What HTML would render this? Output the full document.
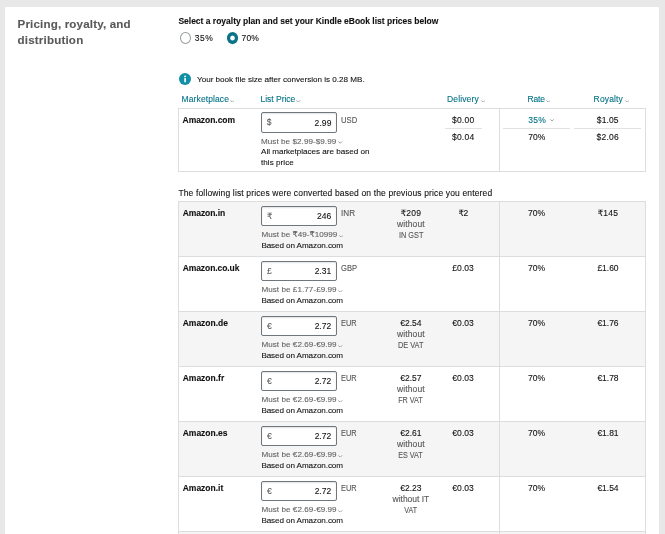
<!DOCTYPE html>
<html>
<head>
<meta charset="utf-8">
<title>Pricing, royalty, and distribution</title>
<style>
html,body{margin:0;padding:0;}
body{width:665px;height:534px;overflow:hidden;background:#e8e8e8;font-family:"Liberation Sans","DejaVu Sans",sans-serif;font-size:8.5px;color:#111;position:relative;}
.panel{position:absolute;left:5px;top:7px;width:654px;height:540px;background:#fff;}
.t{position:absolute;white-space:nowrap;line-height:1;-webkit-text-stroke:0.1px;}
.radio{position:absolute;width:11px;height:12px;border-radius:50%;border:1px solid #979c9f;background:#fff;box-sizing:border-box;}
.radio.on{border:3.2px solid #087488;border-top-width:3.5px;border-bottom-width:3.5px;}
.tbl{position:absolute;box-sizing:border-box;border:1px solid #ddd;}
.row{position:absolute;left:179px;width:466px;height:54px;}
.row.g{background:#f5f5f5;}
.hl{position:absolute;height:1px;background:#ddd;}
.vl{position:absolute;width:1px;background:#ddd;}
.inp{position:absolute;left:261px;width:76px;height:20px;border:1px solid #70777c;border-radius:2px;box-sizing:border-box;background:#fff;box-shadow:inset 0 1px 1.5px rgba(15,17,17,.12);}
.info{position:absolute;left:178.6px;top:73.1px;width:12.2px;height:12.2px;border-radius:50%;background:#1090a6;}
.chev{position:absolute;width:4px;height:2.4px;}
.hl.u{background:#e2e2e2;}
</style>
</head>
<body>
<div class="panel"></div>
<div class="radio" style="left:180px;top:32px"></div>
<svg style="position:absolute;left:226px;top:31px" width="13" height="14" viewBox="0 0 13 14"><ellipse cx="6.5" cy="7.05" rx="5.6" ry="6.1" fill="#0a7388"/><ellipse cx="6.5" cy="7.1" rx="2.35" ry="2.5" fill="#fff"/></svg>
<div class="info"><svg width="12.2" height="12.2" viewBox="0 0 12 12" style="display:block"><circle cx="6" cy="3.4" r="0.9" fill="#fff"/><rect x="5.2" y="5" width="1.6" height="4.2" rx="0.3" fill="#fff"/></svg></div>
<svg class="chev" style="left:230.0px;top:99.6px;width:4.4px;height:2.8px" viewBox="0 0 4.4 2.8"><polyline points="0.3,0.4 2.2,2.3 4.1,0.4" fill="none" stroke="#7d8285" stroke-width="0.75"/></svg>
<svg class="chev" style="left:296.4px;top:99.6px;width:4.4px;height:2.8px" viewBox="0 0 4.4 2.8"><polyline points="0.3,0.4 2.2,2.3 4.1,0.4" fill="none" stroke="#7d8285" stroke-width="0.75"/></svg>
<svg class="chev" style="left:481.1px;top:99.6px;width:4.4px;height:2.8px" viewBox="0 0 4.4 2.8"><polyline points="0.3,0.4 2.2,2.3 4.1,0.4" fill="none" stroke="#7d8285" stroke-width="0.75"/></svg>
<svg class="chev" style="left:545.8px;top:99.6px;width:4.4px;height:2.8px" viewBox="0 0 4.4 2.8"><polyline points="0.3,0.4 2.2,2.3 4.1,0.4" fill="none" stroke="#7d8285" stroke-width="0.75"/></svg>
<svg class="chev" style="left:624.6px;top:99.6px;width:4.4px;height:2.8px" viewBox="0 0 4.4 2.8"><polyline points="0.3,0.4 2.2,2.3 4.1,0.4" fill="none" stroke="#7d8285" stroke-width="0.75"/></svg>
<div class="tbl" style="left:178px;top:108px;width:468px;height:64px"></div>
<div class="vl" style="left:499px;top:109px;height:62px"></div>
<div class="inp" style="top:112px;height:20.5px"></div>
<svg class="chev" style="left:338.2px;top:141.1px;width:4.4px;height:2.8px" viewBox="0 0 4.4 2.8"><polyline points="0.3,0.4 2.2,2.3 4.1,0.4" fill="none" stroke="#777c80" stroke-width="0.75"/></svg>
<div class="hl u" style="left:445px;top:128px;width:37px"></div>
<div class="hl u" style="left:503px;top:128px;width:67px"></div>
<div class="hl u" style="left:574px;top:128px;width:67px"></div>
<svg class="chev" style="left:550px;top:119.1px" viewBox="0 0 4 2.4"><polyline points="0.3,0.3 2,2 3.7,0.3" fill="none" stroke="#7d8285" stroke-width="0.7"/></svg>
<div class="tbl" style="left:178px;top:201px;width:468px;height:340px"></div>
<div class="row g" style="top:202px"></div>
<div class="inp" style="top:206px"></div>
<svg class="chev" style="left:338.9px;top:234.5px;width:4.4px;height:2.8px" viewBox="0 0 4.4 2.8"><polyline points="0.3,0.4 2.2,2.3 4.1,0.4" fill="none" stroke="#777c80" stroke-width="0.75"/></svg>
<div class="row" style="top:257px"></div>
<div class="hl" style="left:179px;top:256px;width:466px"></div>
<div class="inp" style="top:261px"></div>
<svg class="chev" style="left:338.3px;top:289.5px;width:4.4px;height:2.8px" viewBox="0 0 4.4 2.8"><polyline points="0.3,0.4 2.2,2.3 4.1,0.4" fill="none" stroke="#777c80" stroke-width="0.75"/></svg>
<div class="row g" style="top:312px"></div>
<div class="hl" style="left:179px;top:311px;width:466px"></div>
<div class="inp" style="top:316px"></div>
<svg class="chev" style="left:338.3px;top:344.5px;width:4.4px;height:2.8px" viewBox="0 0 4.4 2.8"><polyline points="0.3,0.4 2.2,2.3 4.1,0.4" fill="none" stroke="#777c80" stroke-width="0.75"/></svg>
<div class="row" style="top:367px"></div>
<div class="hl" style="left:179px;top:366px;width:466px"></div>
<div class="inp" style="top:371px"></div>
<svg class="chev" style="left:338.3px;top:399.5px;width:4.4px;height:2.8px" viewBox="0 0 4.4 2.8"><polyline points="0.3,0.4 2.2,2.3 4.1,0.4" fill="none" stroke="#777c80" stroke-width="0.75"/></svg>
<div class="row g" style="top:422px"></div>
<div class="hl" style="left:179px;top:421px;width:466px"></div>
<div class="inp" style="top:426px"></div>
<svg class="chev" style="left:338.3px;top:454.5px;width:4.4px;height:2.8px" viewBox="0 0 4.4 2.8"><polyline points="0.3,0.4 2.2,2.3 4.1,0.4" fill="none" stroke="#777c80" stroke-width="0.75"/></svg>
<div class="row" style="top:477px"></div>
<div class="hl" style="left:179px;top:476px;width:466px"></div>
<div class="inp" style="top:481px"></div>
<svg class="chev" style="left:338.3px;top:509.5px;width:4.4px;height:2.8px" viewBox="0 0 4.4 2.8"><polyline points="0.3,0.4 2.2,2.3 4.1,0.4" fill="none" stroke="#777c80" stroke-width="0.75"/></svg>
<div class="row g" style="top:532px"></div>
<div class="hl" style="left:179px;top:531px;width:466px"></div>
<div class="vl" style="left:499px;top:202px;height:340px"></div>
<span class="t" id="t0" style="font-size:11.6px;font-weight:bold;color:#595959;top:18px;letter-spacing:0.159px;left:17.50px;">Pricing, royalty, and</span>
<span class="t" id="t1" style="font-size:11.6px;font-weight:bold;color:#595959;top:34px;letter-spacing:0.178px;left:17.50px;">distribution</span>
<span class="t" id="t2" style="font-size:8.5px;font-weight:bold;color:#111;top:17px;letter-spacing:-0.004px;left:178.40px;">Select a royalty plan and set your Kindle eBook list prices below</span>
<span class="t" id="t3" style="font-size:8.5px;font-weight:normal;color:#111;top:34px;letter-spacing:0.461px;left:194.80px;">35%</span>
<span class="t" id="t4" style="font-size:8.5px;font-weight:normal;color:#111;top:34px;letter-spacing:0.128px;left:241.60px;">70%</span>
<span class="t" id="t5" style="font-size:8.1px;font-weight:normal;color:#111;top:76px;letter-spacing:-0.006px;left:197.00px;">Your book file size after conversion is 0.28 MB.</span>
<span class="t" id="t6" style="font-size:8.5px;font-weight:normal;color:#007185;top:95px;letter-spacing:0.099px;left:181.60px;">Marketplace</span>
<span class="t" id="t7" style="font-size:8.5px;font-weight:normal;color:#007185;top:95px;letter-spacing:-0.017px;left:260.50px;">List Price</span>
<span class="t" id="t8" style="font-size:8.5px;font-weight:normal;color:#007185;top:95px;letter-spacing:0.137px;left:447.00px;">Delivery</span>
<span class="t" id="t9" style="font-size:8.5px;font-weight:normal;color:#007185;top:95px;letter-spacing:-0.167px;left:527.50px;">Rate</span>
<span class="t" id="t10" style="font-size:8.5px;font-weight:normal;color:#007185;top:95px;letter-spacing:0.151px;left:593.60px;">Royalty</span>
<span class="t" id="t11" style="font-size:8.5px;font-weight:bold;color:#111;top:116px;letter-spacing:-0.051px;left:182.60px;">Amazon.com</span>
<span class="t" id="t12" style="font-size:8.5px;font-weight:normal;color:#5a5a5a;top:118px;left:266.80px;">$</span>
<span class="t" id="t13" style="font-size:8.5px;font-weight:normal;color:#111;top:119px;letter-spacing:0.088px;left:314.60px;">2.99</span>
<span class="t" id="t14" style="font-size:8.5px;font-weight:normal;color:#555;top:116px;transform:scaleX(0.9023);transform-origin:0 50%;left:341.00px;">USD</span>
<span class="t" id="t15" style="font-size:8.1px;font-weight:normal;color:#626262;top:138px;letter-spacing:0.055px;left:261.00px;">Must be $2.99-$9.99</span>
<span class="t" id="t16" style="font-size:8.1px;font-weight:normal;color:#111;top:148px;letter-spacing:-0.016px;left:261.00px;">All marketplaces are based on</span>
<span class="t" id="t17" style="font-size:8.1px;font-weight:normal;color:#111;top:159px;letter-spacing:0.041px;left:261.00px;">this price</span>
<span class="t" id="t18" style="font-size:8.5px;font-weight:normal;color:#111;top:116px;letter-spacing:0.264px;left:451.90px;">$0.00</span>
<span class="t" id="t19" style="font-size:8.5px;font-weight:normal;color:#111;top:133px;letter-spacing:0.264px;left:451.90px;">$0.04</span>
<span class="t" id="t20" style="font-size:8.5px;font-weight:normal;color:#007185;top:116px;letter-spacing:0.261px;left:528.20px;">35%</span>
<span class="t" id="t21" style="font-size:8.5px;font-weight:normal;color:#111;top:133px;letter-spacing:0.061px;left:528.20px;">70%</span>
<span class="t" id="t22" style="font-size:8.5px;font-weight:normal;color:#111;top:116px;letter-spacing:0.124px;left:596.80px;">$1.05</span>
<span class="t" id="t23" style="font-size:8.5px;font-weight:normal;color:#111;top:133px;letter-spacing:0.204px;left:596.60px;">$2.06</span>
<span class="t" id="t24" style="font-size:8.5px;font-weight:normal;color:#111;top:189px;letter-spacing:0.144px;left:178.40px;">The following list prices were converted based on the previous price you entered</span>
<span class="t" id="t25" style="font-size:8.5px;font-weight:bold;color:#111;top:209px;letter-spacing:-0.065px;left:182.70px;">Amazon.in</span>
<span class="t" id="t26" style="font-size:8.5px;font-weight:normal;color:#5a5a5a;top:212px;left:267.00px;">₹</span>
<span class="t" id="t27" style="font-size:8.5px;font-weight:normal;color:#111;top:212px;left:317.01px;">246</span>
<span class="t" id="t28" style="font-size:8.5px;font-weight:normal;color:#555;top:209px;transform:scaleX(0.9562);transform-origin:0 50%;left:341.00px;">INR</span>
<span class="t" id="t29" style="font-size:8.1px;font-weight:normal;color:#626262;top:231px;letter-spacing:0.020px;left:261.40px;">Must be ₹49-₹10999</span>
<span class="t" id="t30" style="font-size:8.1px;font-weight:normal;color:#111;top:242px;letter-spacing:-0.091px;left:261.40px;">Based on Amazon.com</span>
<span class="t" id="t31" style="font-size:8.5px;font-weight:normal;color:#111;top:209px;letter-spacing:0.177px;left:400.75px;">₹209</span>
<span class="t" id="t32" style="font-size:8.5px;font-weight:normal;color:#555;top:220px;letter-spacing:0.123px;left:397.00px;">without</span>
<span class="t" id="t33" style="font-size:8.5px;font-weight:normal;color:#555;top:231px;transform:scaleX(0.8609);transform-origin:50% 50%;left:396.73px;">IN GST</span>
<span class="t" id="t34" style="font-size:8.5px;font-weight:normal;color:#111;top:209px;letter-spacing:-0.370px;left:458.40px;">₹2</span>
<span class="t" id="t35" style="font-size:8.5px;font-weight:normal;color:#111;top:209px;left:527.99px;">70%</span>
<span class="t" id="t36" style="font-size:8.5px;font-weight:normal;color:#111;top:209px;letter-spacing:0.252px;left:597.70px;">₹145</span>
<span class="t" id="t37" style="font-size:8.5px;font-weight:bold;color:#111;top:264px;letter-spacing:-0.085px;left:182.70px;">Amazon.co.uk</span>
<span class="t" id="t38" style="font-size:8.5px;font-weight:normal;color:#5a5a5a;top:267px;left:267.00px;">£</span>
<span class="t" id="t39" style="font-size:8.5px;font-weight:normal;color:#111;top:267px;left:314.65px;">2.31</span>
<span class="t" id="t40" style="font-size:8.5px;font-weight:normal;color:#555;top:264px;transform:scaleX(0.8968);transform-origin:0 50%;left:341.00px;">GBP</span>
<span class="t" id="t41" style="font-size:8.1px;font-weight:normal;color:#626262;top:286px;letter-spacing:0.055px;left:261.40px;">Must be £1.77-£9.99</span>
<span class="t" id="t42" style="font-size:8.1px;font-weight:normal;color:#111;top:297px;letter-spacing:-0.091px;left:261.40px;">Based on Amazon.com</span>
<span class="t" id="t43" style="font-size:8.5px;font-weight:normal;color:#111;top:264px;letter-spacing:0.044px;left:452.35px;">£0.03</span>
<span class="t" id="t44" style="font-size:8.5px;font-weight:normal;color:#111;top:264px;left:527.99px;">70%</span>
<span class="t" id="t45" style="font-size:8.5px;font-weight:normal;color:#111;top:264px;letter-spacing:-0.016px;left:597.40px;">£1.60</span>
<span class="t" id="t46" style="font-size:8.5px;font-weight:bold;color:#111;top:319px;left:182.70px;">Amazon.de</span>
<span class="t" id="t47" style="font-size:8.5px;font-weight:normal;color:#5a5a5a;top:322px;left:267.00px;">€</span>
<span class="t" id="t48" style="font-size:8.5px;font-weight:normal;color:#111;top:322px;left:314.65px;">2.72</span>
<span class="t" id="t49" style="font-size:8.5px;font-weight:normal;color:#555;top:319px;transform:scaleX(0.8689);transform-origin:0 50%;left:341.00px;">EUR</span>
<span class="t" id="t50" style="font-size:8.1px;font-weight:normal;color:#626262;top:341px;letter-spacing:0.055px;left:261.40px;">Must be €2.69-€9.99</span>
<span class="t" id="t51" style="font-size:8.1px;font-weight:normal;color:#111;top:352px;letter-spacing:-0.091px;left:261.40px;">Based on Amazon.com</span>
<span class="t" id="t52" style="font-size:8.5px;font-weight:normal;color:#111;top:319px;letter-spacing:0.044px;left:400.15px;">€2.54</span>
<span class="t" id="t53" style="font-size:8.5px;font-weight:normal;color:#555;top:330px;letter-spacing:0.123px;left:397.00px;">without</span>
<span class="t" id="t54" style="font-size:8.5px;font-weight:normal;color:#555;top:341px;transform:scaleX(0.8658);transform-origin:50% 50%;left:396.17px;">DE VAT</span>
<span class="t" id="t55" style="font-size:8.5px;font-weight:normal;color:#111;top:319px;letter-spacing:0.044px;left:452.35px;">€0.03</span>
<span class="t" id="t56" style="font-size:8.5px;font-weight:normal;color:#111;top:319px;left:527.99px;">70%</span>
<span class="t" id="t57" style="font-size:8.5px;font-weight:normal;color:#111;top:319px;letter-spacing:-0.016px;left:597.40px;">€1.76</span>
<span class="t" id="t58" style="font-size:8.5px;font-weight:bold;color:#111;top:374px;left:182.70px;">Amazon.fr</span>
<span class="t" id="t59" style="font-size:8.5px;font-weight:normal;color:#5a5a5a;top:377px;left:267.00px;">€</span>
<span class="t" id="t60" style="font-size:8.5px;font-weight:normal;color:#111;top:377px;left:314.65px;">2.72</span>
<span class="t" id="t61" style="font-size:8.5px;font-weight:normal;color:#555;top:374px;transform:scaleX(0.8689);transform-origin:0 50%;left:341.00px;">EUR</span>
<span class="t" id="t62" style="font-size:8.1px;font-weight:normal;color:#626262;top:396px;letter-spacing:0.055px;left:261.40px;">Must be €2.69-€9.99</span>
<span class="t" id="t63" style="font-size:8.1px;font-weight:normal;color:#111;top:407px;letter-spacing:-0.091px;left:261.40px;">Based on Amazon.com</span>
<span class="t" id="t64" style="font-size:8.5px;font-weight:normal;color:#111;top:374px;letter-spacing:0.044px;left:400.15px;">€2.57</span>
<span class="t" id="t65" style="font-size:8.5px;font-weight:normal;color:#555;top:385px;letter-spacing:0.123px;left:397.00px;">without</span>
<span class="t" id="t66" style="font-size:8.5px;font-weight:normal;color:#555;top:396px;transform:scaleX(0.8492);transform-origin:50% 50%;left:396.42px;">FR VAT</span>
<span class="t" id="t67" style="font-size:8.5px;font-weight:normal;color:#111;top:374px;letter-spacing:0.044px;left:452.35px;">€0.03</span>
<span class="t" id="t68" style="font-size:8.5px;font-weight:normal;color:#111;top:374px;left:527.99px;">70%</span>
<span class="t" id="t69" style="font-size:8.5px;font-weight:normal;color:#111;top:374px;letter-spacing:-0.016px;left:597.40px;">€1.78</span>
<span class="t" id="t70" style="font-size:8.5px;font-weight:bold;color:#111;top:429px;left:182.70px;">Amazon.es</span>
<span class="t" id="t71" style="font-size:8.5px;font-weight:normal;color:#5a5a5a;top:432px;left:267.00px;">€</span>
<span class="t" id="t72" style="font-size:8.5px;font-weight:normal;color:#111;top:432px;left:314.65px;">2.72</span>
<span class="t" id="t73" style="font-size:8.5px;font-weight:normal;color:#555;top:429px;transform:scaleX(0.8689);transform-origin:0 50%;left:341.00px;">EUR</span>
<span class="t" id="t74" style="font-size:8.1px;font-weight:normal;color:#626262;top:451px;letter-spacing:0.055px;left:261.40px;">Must be €2.69-€9.99</span>
<span class="t" id="t75" style="font-size:8.1px;font-weight:normal;color:#111;top:462px;letter-spacing:-0.091px;left:261.40px;">Based on Amazon.com</span>
<span class="t" id="t76" style="font-size:8.5px;font-weight:normal;color:#111;top:429px;letter-spacing:0.044px;left:400.15px;">€2.61</span>
<span class="t" id="t77" style="font-size:8.5px;font-weight:normal;color:#555;top:440px;letter-spacing:0.123px;left:397.00px;">without</span>
<span class="t" id="t78" style="font-size:8.5px;font-weight:normal;color:#555;top:451px;transform:scaleX(0.8453);transform-origin:50% 50%;left:396.41px;">ES VAT</span>
<span class="t" id="t79" style="font-size:8.5px;font-weight:normal;color:#111;top:429px;letter-spacing:0.044px;left:452.35px;">€0.03</span>
<span class="t" id="t80" style="font-size:8.5px;font-weight:normal;color:#111;top:429px;left:527.99px;">70%</span>
<span class="t" id="t81" style="font-size:8.5px;font-weight:normal;color:#111;top:429px;letter-spacing:-0.016px;left:597.40px;">€1.81</span>
<span class="t" id="t82" style="font-size:8.5px;font-weight:bold;color:#111;top:484px;left:182.70px;">Amazon.it</span>
<span class="t" id="t83" style="font-size:8.5px;font-weight:normal;color:#5a5a5a;top:487px;left:267.00px;">€</span>
<span class="t" id="t84" style="font-size:8.5px;font-weight:normal;color:#111;top:487px;left:314.65px;">2.72</span>
<span class="t" id="t85" style="font-size:8.5px;font-weight:normal;color:#555;top:484px;transform:scaleX(0.8689);transform-origin:0 50%;left:341.00px;">EUR</span>
<span class="t" id="t86" style="font-size:8.1px;font-weight:normal;color:#626262;top:506px;letter-spacing:0.055px;left:261.40px;">Must be €2.69-€9.99</span>
<span class="t" id="t87" style="font-size:8.1px;font-weight:normal;color:#111;top:517px;letter-spacing:-0.091px;left:261.40px;">Based on Amazon.com</span>
<span class="t" id="t88" style="font-size:8.5px;font-weight:normal;color:#111;top:484px;letter-spacing:0.044px;left:400.15px;">€2.23</span>
<span class="t" id="t89" style="font-size:8.5px;font-weight:normal;color:#555;top:495px;letter-spacing:-0.016px;left:392.55px;">without IT</span>
<span class="t" id="t90" style="font-size:8.5px;font-weight:normal;color:#555;top:506px;transform:scaleX(0.8376);transform-origin:50% 50%;left:403.26px;">VAT</span>
<span class="t" id="t91" style="font-size:8.5px;font-weight:normal;color:#111;top:484px;letter-spacing:0.044px;left:452.35px;">€0.03</span>
<span class="t" id="t92" style="font-size:8.5px;font-weight:normal;color:#111;top:484px;left:527.99px;">70%</span>
<span class="t" id="t93" style="font-size:8.5px;font-weight:normal;color:#111;top:484px;letter-spacing:-0.016px;left:597.40px;">€1.54</span>
</body>
</html>
